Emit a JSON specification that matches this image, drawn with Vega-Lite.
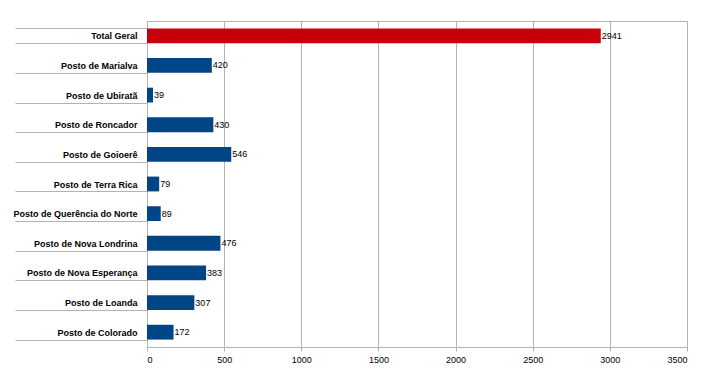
{
  "$schema": "https://vega.github.io/schema/vega-lite/v6.json",
  "autosize": "none",
  "width": 540,
  "height": 326,
  "padding": {"left": 147, "top": 21, "right": 32, "bottom": 32},
  "background": "white",
  "config": {
    "view": {"stroke": "#b3b3b3", "strokeWidth": 1},
    "font": "Liberation Sans"
  },
  "data": {
    "values": [
      {"posto": "Total Geral", "valor": 2941, "tipo": "total"},
      {"posto": "Posto de Marialva", "valor": 420, "tipo": "posto"},
      {"posto": "Posto de Ubiratã", "valor": 39, "tipo": "posto"},
      {"posto": "Posto de Roncador", "valor": 430, "tipo": "posto"},
      {"posto": "Posto de Goioerê", "valor": 546, "tipo": "posto"},
      {"posto": "Posto de Terra Rica", "valor": 79, "tipo": "posto"},
      {"posto": "Posto de Querência do Norte", "valor": 89, "tipo": "posto"},
      {"posto": "Posto de Nova Londrina", "valor": 476, "tipo": "posto"},
      {"posto": "Posto de Nova Esperança", "valor": 383, "tipo": "posto"},
      {"posto": "Posto de Loanda", "valor": 307, "tipo": "posto"},
      {"posto": "Posto de Colorado", "valor": 172, "tipo": "posto"}
    ]
  },
  "encoding": {
    "y": {
      "field": "posto",
      "type": "nominal",
      "sort": null,
      "scale": {"paddingInner": 0.5, "paddingOuter": 0.25},
      "axis": {
        "title": null,
        "domain": true,
        "domainColor": "#b3b3b3",
        "tickBand": "extent",
        "tickSize": 132,
        "tickColor": "#b3b3b3",
        "labelPadding": -122,
        "labelFont": "Liberation Sans",
        "labelFontSize": 9,
        "labelFontWeight": "bold",
        "labelColor": "#000000",
        "labelLimit": 200
      }
    },
    "x": {
      "field": "valor",
      "type": "quantitative",
      "scale": {"domain": [0, 3500], "nice": false},
      "axis": {
        "title": null,
        "format": "d",
        "values": [0, 500, 1000, 1500, 2000, 2500, 3000, 3500],
        "grid": true,
        "gridColor": "#b3b3b3",
        "domainColor": "#b3b3b3",
        "tickColor": "#b3b3b3",
        "tickSize": 4,
        "labelPadding": 4,
        "labelFont": "Liberation Sans",
        "labelFontSize": 9,
        "labelColor": "#000000"
      }
    }
  },
  "layer": [
    {
      "mark": {"type": "bar", "stroke": null},
      "encoding": {
        "color": {
          "field": "tipo",
          "type": "nominal",
          "scale": {"domain": ["total", "posto"], "range": ["#c9000b", "#004586"]},
          "legend": null
        }
      }
    },
    {
      "mark": {"type": "text", "align": "left", "baseline": "middle", "dx": 1, "fontSize": 9, "font": "Liberation Sans", "color": "#000000"},
      "encoding": {
        "text": {"field": "valor", "type": "quantitative", "format": "d"}
      }
    }
  ]
}
